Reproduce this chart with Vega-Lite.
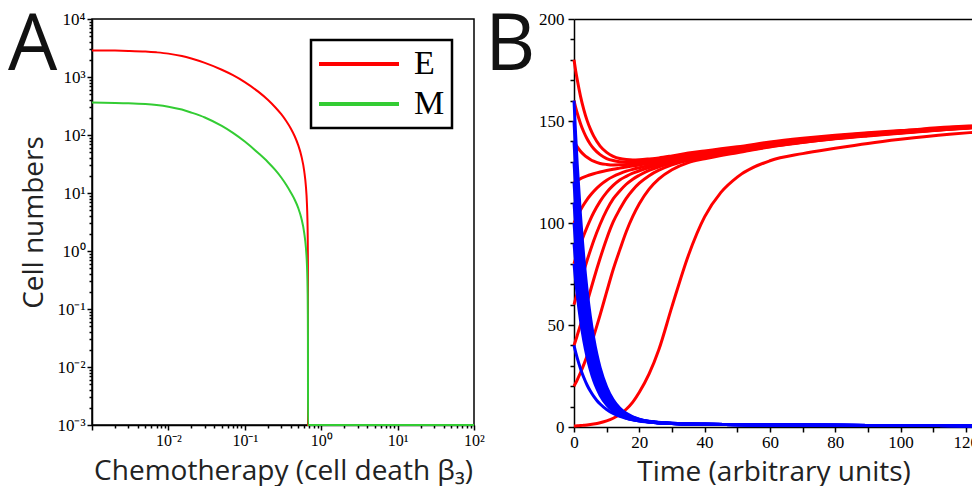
{
"$schema":"https://vega.github.io/schema/vega-lite/v6.json",
"autosize":{"type":"pad"},
"padding":{"left":7,"top":7,"right":0,"bottom":0},
"background":"white",
"bounds":"flush",
"spacing":100,
"config":{
 "view":{"stroke":null},
 "axis":{"grid":false,"domainColor":"black","domainWidth":1.5,"tickColor":"black","tickWidth":1.5,"labelColor":"black","labelFont":"Liberation Serif","labelFontSize":17,"titleFont":"Open Sans","titleFontSize":28,"titleFontWeight":"normal","titleColor":"#222","labelOverlap":false,"labelFlush":false,"labelBound":false},
 "title":{"font":"Open Sans","fontSize":78,"fontWeight":"normal","color":"#111","anchor":"start","frame":"group","offset":-76,"baseline":"alphabetic"}
},
"datasets":{
"A":[
{"c":"E","b":0.001,"v":2870},{"c":"E","b":0.002,"v":2850},{"c":"E","b":0.003,"v":2820},{"c":"E","b":0.005,"v":2750},{"c":"E","b":0.007,"v":2660},{"c":"E","b":0.01,"v":2530},{"c":"E","b":0.015,"v":2300},{"c":"E","b":0.02,"v":2080},{"c":"E","b":0.03,"v":1750},{"c":"E","b":0.05,"v":1333},{"c":"E","b":0.07,"v":1075},{"c":"E","b":0.1,"v":817},{"c":"E","b":0.15,"v":559},{"c":"E","b":0.2,"v":405},{"c":"E","b":0.25,"v":301},{"c":"E","b":0.3,"v":228},{"c":"E","b":0.35,"v":172.5},{"c":"E","b":0.4,"v":129.5},{"c":"E","b":0.45,"v":95.2},{"c":"E","b":0.5,"v":67.0},{"c":"E","b":0.55,"v":43.6},{"c":"E","b":0.6,"v":23.7},{"c":"E","b":0.63,"v":13.2},{"c":"E","b":0.65,"v":6.73},{"c":"E","b":0.66,"v":3.62},{"c":"E","b":0.665,"v":2.10},{"c":"E","b":0.669,"v":0.894},{"c":"E","b":0.671,"v":0.297},{"c":"E","b":0.672,"v":0.001},{"c":"E","b":1,"v":0.001},{"c":"E","b":10,"v":0.001},{"c":"E","b":100,"v":0.001},
{"c":"M","b":0.001,"v":361.6},{"c":"M","b":0.002,"v":357.4},{"c":"M","b":0.003,"v":352.5},{"c":"M","b":0.005,"v":341.1},{"c":"M","b":0.007,"v":328.4},{"c":"M","b":0.01,"v":308.1},{"c":"M","b":0.015,"v":274.4},{"c":"M","b":0.02,"v":243.4},{"c":"M","b":0.03,"v":200.5},{"c":"M","b":0.05,"v":143.1},{"c":"M","b":0.07,"v":108.5},{"c":"M","b":0.1,"v":77.0},{"c":"M","b":0.15,"v":48.8},{"c":"M","b":0.2,"v":34.3},{"c":"M","b":0.25,"v":25.0},{"c":"M","b":0.3,"v":18.5},{"c":"M","b":0.35,"v":13.7},{"c":"M","b":0.4,"v":10.2},{"c":"M","b":0.45,"v":7.66},{"c":"M","b":0.5,"v":5.53},{"c":"M","b":0.55,"v":3.67},{"c":"M","b":0.6,"v":2.04},{"c":"M","b":0.63,"v":1.16},{"c":"M","b":0.65,"v":0.60},{"c":"M","b":0.66,"v":0.325},{"c":"M","b":0.665,"v":0.189},{"c":"M","b":0.669,"v":0.081},{"c":"M","b":0.671,"v":0.027},{"c":"M","b":0.672,"v":0.001},{"c":"M","b":1,"v":0.001},{"c":"M","b":10,"v":0.001},{"c":"M","b":100,"v":0.001}
],
"BE":[
{"s":180,"t":0,"v":180},{"s":180,"t":0.5,"v":174.8},{"s":180,"t":1,"v":170.2},{"s":180,"t":2,"v":162.1},{"s":180,"t":3,"v":155.6},{"s":180,"t":4,"v":150.3},{"s":180,"t":5,"v":146.1},{"s":180,"t":6,"v":142.7},{"s":180,"t":8,"v":137.7},{"s":180,"t":10,"v":134.6},{"s":180,"t":12,"v":132.7},{"s":180,"t":14,"v":131.6},{"s":180,"t":16,"v":131.1},{"s":180,"t":18,"v":130.9},{"s":180,"t":20,"v":131.0},{"s":180,"t":23,"v":131.4},{"s":180,"t":26,"v":131.9},{"s":180,"t":30,"v":132.9},{"s":180,"t":35,"v":134.3},{"s":180,"t":40,"v":135.3},{"s":180,"t":45,"v":136.4},{"s":180,"t":50,"v":137.35},{"s":180,"t":60,"v":139.7},{"s":180,"t":70,"v":141.5},{"s":180,"t":80,"v":143.0},{"s":180,"t":90,"v":144.25},{"s":180,"t":100,"v":145.3},{"s":180,"t":115,"v":147.0},{"s":180,"t":122,"v":147.6},
{"s":160,"t":0,"v":160},{"s":160,"t":0.5,"v":156.7},{"s":160,"t":1,"v":153.8},{"s":160,"t":2,"v":148.7},{"s":160,"t":3,"v":144.6},{"s":160,"t":4,"v":141.3},{"s":160,"t":5,"v":138.6},{"s":160,"t":6,"v":136.5},{"s":160,"t":8,"v":133.5},{"s":160,"t":10,"v":131.6},{"s":160,"t":12,"v":130.6},{"s":160,"t":14,"v":130.05},{"s":160,"t":16,"v":129.9},{"s":160,"t":18,"v":129.95},{"s":160,"t":20,"v":130.2},{"s":160,"t":23,"v":130.7},{"s":160,"t":26,"v":131.3},{"s":160,"t":30,"v":132.4},{"s":160,"t":35,"v":133.8},{"s":160,"t":40,"v":134.8},{"s":160,"t":45,"v":135.9},{"s":160,"t":50,"v":136.9},{"s":160,"t":60,"v":139.3},{"s":160,"t":70,"v":141.2},{"s":160,"t":80,"v":142.7},{"s":160,"t":90,"v":144.0},{"s":160,"t":100,"v":145.1},{"s":160,"t":115,"v":146.8},{"s":160,"t":122,"v":147.45},
{"s":140,"t":0,"v":140},{"s":140,"t":0.5,"v":138.6},{"s":140,"t":1,"v":137.35},{"s":140,"t":2,"v":135.2},{"s":140,"t":3,"v":133.55},{"s":140,"t":4,"v":132.2},{"s":140,"t":5,"v":131.15},{"s":140,"t":6,"v":130.3},{"s":140,"t":8,"v":129.2},{"s":140,"t":10,"v":128.7},{"s":140,"t":12,"v":128.45},{"s":140,"t":14,"v":128.5},{"s":140,"t":16,"v":128.65},{"s":140,"t":18,"v":128.9},{"s":140,"t":20,"v":129.3},{"s":140,"t":23,"v":130.0},{"s":140,"t":26,"v":130.7},{"s":140,"t":30,"v":131.8},{"s":140,"t":35,"v":133.3},{"s":140,"t":40,"v":134.3},{"s":140,"t":45,"v":135.4},{"s":140,"t":50,"v":136.5},{"s":140,"t":60,"v":138.95},{"s":140,"t":70,"v":140.85},{"s":140,"t":80,"v":142.45},{"s":140,"t":90,"v":143.8},{"s":140,"t":100,"v":144.9},{"s":140,"t":115,"v":146.6},{"s":140,"t":122,"v":147.3},
{"s":120,"t":0,"v":120},{"s":120,"t":0.5,"v":120.5},{"s":120,"t":1,"v":120.95},{"s":120,"t":2,"v":121.8},{"s":120,"t":3,"v":122.5},{"s":120,"t":4,"v":123.1},{"s":120,"t":5,"v":123.65},{"s":120,"t":6,"v":124.15},{"s":120,"t":8,"v":125.0},{"s":120,"t":10,"v":125.7},{"s":120,"t":12,"v":126.35},{"s":120,"t":14,"v":126.9},{"s":120,"t":16,"v":127.45},{"s":120,"t":18,"v":127.95},{"s":120,"t":20,"v":128.45},{"s":120,"t":23,"v":129.3},{"s":120,"t":26,"v":130.1},{"s":120,"t":30,"v":131.3},{"s":120,"t":35,"v":132.8},{"s":120,"t":40,"v":133.8},{"s":120,"t":45,"v":134.97},{"s":120,"t":50,"v":136.05},{"s":120,"t":60,"v":138.6},{"s":120,"t":70,"v":140.5},{"s":120,"t":80,"v":142.2},{"s":120,"t":90,"v":143.55},{"s":120,"t":100,"v":144.7},{"s":120,"t":115,"v":146.45},{"s":120,"t":122,"v":147.1},
{"s":100,"t":0,"v":100},{"s":100,"t":0.5,"v":101.7},{"s":100,"t":1,"v":103.4},{"s":100,"t":2,"v":106.4},{"s":100,"t":3,"v":109.1},{"s":100,"t":4,"v":111.5},{"s":100,"t":5,"v":113.6},{"s":100,"t":6,"v":115.5},{"s":100,"t":8,"v":118.6},{"s":100,"t":10,"v":121.0},{"s":100,"t":12,"v":122.8},{"s":100,"t":14,"v":124.2},{"s":100,"t":16,"v":125.4},{"s":100,"t":18,"v":126.3},{"s":100,"t":20,"v":127.1},{"s":100,"t":23,"v":128.25},{"s":100,"t":26,"v":129.3},{"s":100,"t":30,"v":130.6},{"s":100,"t":35,"v":132.2},{"s":100,"t":40,"v":133.3},{"s":100,"t":45,"v":134.5},{"s":100,"t":50,"v":135.6},{"s":100,"t":60,"v":138.2},{"s":100,"t":70,"v":140.2},{"s":100,"t":80,"v":141.9},{"s":100,"t":90,"v":143.3},{"s":100,"t":100,"v":144.5},{"s":100,"t":115,"v":146.3},{"s":100,"t":122,"v":147.0},
{"s":80,"t":0,"v":80},{"s":80,"t":0.5,"v":82.5},{"s":80,"t":1,"v":85.0},{"s":80,"t":2,"v":89.65},{"s":80,"t":3,"v":94.0},{"s":80,"t":4,"v":98.0},{"s":80,"t":5,"v":101.7},{"s":80,"t":6,"v":105.0},{"s":80,"t":8,"v":110.6},{"s":80,"t":10,"v":115.0},{"s":80,"t":12,"v":118.4},{"s":80,"t":14,"v":121.05},{"s":80,"t":16,"v":122.85},{"s":80,"t":18,"v":124.4},{"s":80,"t":20,"v":125.6},{"s":80,"t":23,"v":127.2},{"s":80,"t":26,"v":128.55},{"s":80,"t":30,"v":130.1},{"s":80,"t":35,"v":131.8},{"s":80,"t":40,"v":132.9},{"s":80,"t":45,"v":134.2},{"s":80,"t":50,"v":135.3},{"s":80,"t":60,"v":138.0},{"s":80,"t":70,"v":140.0},{"s":80,"t":80,"v":141.7},{"s":80,"t":90,"v":143.15},{"s":80,"t":100,"v":144.4},{"s":80,"t":115,"v":146.2},{"s":80,"t":122,"v":146.9},
{"s":60,"t":0,"v":60},{"s":60,"t":0.5,"v":62.8},{"s":60,"t":1,"v":65.5},{"s":60,"t":2,"v":71.0},{"s":60,"t":3,"v":76.4},{"s":60,"t":4,"v":81.6},{"s":60,"t":5,"v":86.5},{"s":60,"t":6,"v":91.2},{"s":60,"t":8,"v":99.4},{"s":60,"t":10,"v":106.3},{"s":60,"t":12,"v":111.8},{"s":60,"t":14,"v":115.7},{"s":60,"t":16,"v":119.0},{"s":60,"t":18,"v":121.5},{"s":60,"t":20,"v":123.4},{"s":60,"t":23,"v":125.8},{"s":60,"t":26,"v":127.55},{"s":60,"t":30,"v":129.5},{"s":60,"t":35,"v":131.4},{"s":60,"t":40,"v":132.6},{"s":60,"t":45,"v":133.9},{"s":60,"t":50,"v":135.05},{"s":60,"t":60,"v":137.75},{"s":60,"t":70,"v":139.8},{"s":60,"t":80,"v":141.55},{"s":60,"t":90,"v":143.0},{"s":60,"t":100,"v":144.25},{"s":60,"t":115,"v":146.1},{"s":60,"t":122,"v":146.8},
{"s":40,"t":0,"v":40},{"s":40,"t":0.5,"v":42.4},{"s":40,"t":1,"v":44.95},{"s":40,"t":2,"v":50.2},{"s":40,"t":3,"v":55.6},{"s":40,"t":4,"v":61.1},{"s":40,"t":5,"v":66.65},{"s":40,"t":6,"v":72.2},{"s":40,"t":8,"v":82.7},{"s":40,"t":10,"v":92.3},{"s":40,"t":12,"v":100.5},{"s":40,"t":14,"v":106.7},{"s":40,"t":16,"v":112.1},{"s":40,"t":18,"v":116.2},{"s":40,"t":20,"v":119.5},{"s":40,"t":23,"v":123.2},{"s":40,"t":26,"v":125.9},{"s":40,"t":30,"v":128.5},{"s":40,"t":35,"v":130.8},{"s":40,"t":40,"v":132.15},{"s":40,"t":45,"v":133.55},{"s":40,"t":50,"v":134.8},{"s":40,"t":60,"v":137.5},{"s":40,"t":70,"v":139.6},{"s":40,"t":80,"v":141.4},{"s":40,"t":90,"v":142.9},{"s":40,"t":100,"v":144.15},{"s":40,"t":115,"v":146.0},{"s":40,"t":122,"v":146.75},
{"s":20,"t":0,"v":20},{"s":20,"t":0.5,"v":21.5},{"s":20,"t":1,"v":23.15},{"s":20,"t":2,"v":26.7},{"s":20,"t":3,"v":30.6},{"s":20,"t":4,"v":34.8},{"s":20,"t":5,"v":39.5},{"s":20,"t":6,"v":44.4},{"s":20,"t":8,"v":55.0},{"s":20,"t":10,"v":66.2},{"s":20,"t":12,"v":77.2},{"s":20,"t":14,"v":86.7},{"s":20,"t":16,"v":95.7},{"s":20,"t":18,"v":103.2},{"s":20,"t":20,"v":109.4},{"s":20,"t":23,"v":116.6},{"s":20,"t":26,"v":121.6},{"s":20,"t":30,"v":126.1},{"s":20,"t":35,"v":129.6},{"s":20,"t":40,"v":131.5},{"s":20,"t":45,"v":133.1},{"s":20,"t":50,"v":134.45},{"s":20,"t":60,"v":137.3},{"s":20,"t":70,"v":139.4},{"s":20,"t":80,"v":141.25},{"s":20,"t":90,"v":142.7},{"s":20,"t":100,"v":144.0},{"s":20,"t":115,"v":145.9},{"s":20,"t":122,"v":146.65},
{"s":0,"t":0,"v":0.5},{"s":0,"t":0.5,"v":0.55},{"s":0,"t":1,"v":0.6},{"s":0,"t":2,"v":0.7},{"s":0,"t":3,"v":0.85},{"s":0,"t":4,"v":1.0},{"s":0,"t":5,"v":1.2},{"s":0,"t":6,"v":1.45},{"s":0,"t":8,"v":2.1},{"s":0,"t":10,"v":3.0},{"s":0,"t":12,"v":4.3},{"s":0,"t":14,"v":6.1},{"s":0,"t":16,"v":8.7},{"s":0,"t":18,"v":12.2},{"s":0,"t":20,"v":17},{"s":0,"t":23,"v":26},{"s":0,"t":26,"v":38},{"s":0,"t":30,"v":59},{"s":0,"t":35,"v":84},{"s":0,"t":40,"v":103},{"s":0,"t":45,"v":115},{"s":0,"t":50,"v":122.5},{"s":0,"t":60,"v":130.5},{"s":0,"t":70,"v":134},{"s":0,"t":80,"v":136.6},{"s":0,"t":90,"v":139},{"s":0,"t":100,"v":141},{"s":0,"t":115,"v":143.5},{"s":0,"t":122,"v":144.4}
],
"BM":[
{"s":160,"t":0,"v":160},{"s":160,"t":0.5,"v":143.4},{"s":160,"t":1,"v":128.6},{"s":160,"t":2,"v":103.5},{"s":160,"t":3,"v":83.4},{"s":160,"t":4,"v":67.2},{"s":160,"t":5,"v":54.3},{"s":160,"t":6,"v":44.0},{"s":160,"t":7,"v":35.7},{"s":160,"t":8,"v":29.1},{"s":160,"t":10,"v":19.6},{"s":160,"t":12,"v":13.3},{"s":160,"t":14,"v":9.3},{"s":160,"t":16,"v":6.7},{"s":160,"t":18,"v":5.0},{"s":160,"t":20,"v":3.84},{"s":160,"t":25,"v":2.41},{"s":160,"t":30,"v":1.8},{"s":160,"t":40,"v":1.3},{"s":160,"t":60,"v":1.0},{"s":160,"t":80,"v":0.85},{"s":160,"t":100,"v":0.75},{"s":160,"t":122,"v":0.65},
{"s":150,"t":0,"v":150},{"s":150,"t":0.5,"v":134.5},{"s":150,"t":1,"v":120.6},{"s":150,"t":2,"v":97.1},{"s":150,"t":3,"v":78.2},{"s":150,"t":4,"v":63.1},{"s":150,"t":5,"v":51.1},{"s":150,"t":6,"v":41.4},{"s":150,"t":7,"v":33.6},{"s":150,"t":8,"v":27.4},{"s":150,"t":10,"v":18.5},{"s":150,"t":12,"v":12.65},{"s":150,"t":14,"v":8.9},{"s":150,"t":16,"v":6.4},{"s":150,"t":18,"v":4.8},{"s":150,"t":20,"v":3.73},{"s":150,"t":25,"v":2.38},{"s":150,"t":30,"v":1.79},{"s":150,"t":40,"v":1.3},{"s":150,"t":60,"v":1.0},{"s":150,"t":80,"v":0.85},{"s":150,"t":100,"v":0.75},{"s":150,"t":122,"v":0.65},
{"s":140,"t":0,"v":140},{"s":140,"t":0.5,"v":125.5},{"s":140,"t":1,"v":112.6},{"s":140,"t":2,"v":90.7},{"s":140,"t":3,"v":73.1},{"s":140,"t":4,"v":59.0},{"s":140,"t":5,"v":47.8},{"s":140,"t":6,"v":38.7},{"s":140,"t":7,"v":31.5},{"s":140,"t":8,"v":25.7},{"s":140,"t":10,"v":17.4},{"s":140,"t":12,"v":12.0},{"s":140,"t":14,"v":8.4},{"s":140,"t":16,"v":6.1},{"s":140,"t":18,"v":4.6},{"s":140,"t":20,"v":3.6},{"s":140,"t":25,"v":2.34},{"s":140,"t":30,"v":1.78},{"s":140,"t":40,"v":1.3},{"s":140,"t":60,"v":1.0},{"s":140,"t":80,"v":0.85},{"s":140,"t":100,"v":0.75},{"s":140,"t":122,"v":0.65},
{"s":130,"t":0,"v":130},{"s":130,"t":0.5,"v":116.6},{"s":130,"t":1,"v":104.6},{"s":130,"t":2,"v":84.25},{"s":130,"t":3,"v":68.0},{"s":130,"t":4,"v":54.9},{"s":130,"t":5,"v":44.5},{"s":130,"t":6,"v":36.1},{"s":130,"t":7,"v":29.4},{"s":130,"t":8,"v":24.0},{"s":130,"t":10,"v":16.3},{"s":130,"t":12,"v":11.3},{"s":130,"t":14,"v":8.0},{"s":130,"t":16,"v":5.85},{"s":130,"t":18,"v":4.4},{"s":130,"t":20,"v":3.5},{"s":130,"t":25,"v":2.3},{"s":130,"t":30,"v":1.77},{"s":130,"t":40,"v":1.3},{"s":130,"t":60,"v":1.0},{"s":130,"t":80,"v":0.85},{"s":130,"t":100,"v":0.75},{"s":130,"t":122,"v":0.65},
{"s":120,"t":0,"v":120},{"s":120,"t":0.5,"v":107.6},{"s":120,"t":1,"v":96.6},{"s":120,"t":2,"v":77.8},{"s":120,"t":3,"v":62.8},{"s":120,"t":4,"v":50.8},{"s":120,"t":5,"v":41.2},{"s":120,"t":6,"v":33.5},{"s":120,"t":7,"v":27.3},{"s":120,"t":8,"v":22.4},{"s":120,"t":10,"v":15.2},{"s":120,"t":12,"v":10.6},{"s":120,"t":14,"v":7.5},{"s":120,"t":16,"v":5.6},{"s":120,"t":18,"v":4.25},{"s":120,"t":20,"v":3.37},{"s":120,"t":25,"v":2.26},{"s":120,"t":30,"v":1.75},{"s":120,"t":40,"v":1.3},{"s":120,"t":60,"v":1.0},{"s":120,"t":80,"v":0.85},{"s":120,"t":100,"v":0.75},{"s":120,"t":122,"v":0.65},
{"s":110,"t":0,"v":110},{"s":110,"t":0.5,"v":98.7},{"s":110,"t":1,"v":88.6},{"s":110,"t":2,"v":71.4},{"s":110,"t":3,"v":57.7},{"s":110,"t":4,"v":46.7},{"s":110,"t":5,"v":37.9},{"s":110,"t":6,"v":30.8},{"s":110,"t":7,"v":25.2},{"s":110,"t":8,"v":20.7},{"s":110,"t":10,"v":14.15},{"s":110,"t":12,"v":9.9},{"s":110,"t":14,"v":7.1},{"s":110,"t":16,"v":5.3},{"s":110,"t":18,"v":4.07},{"s":110,"t":20,"v":3.26},{"s":110,"t":25,"v":2.22},{"s":110,"t":30,"v":1.74},{"s":110,"t":40,"v":1.3},{"s":110,"t":60,"v":1.0},{"s":110,"t":80,"v":0.85},{"s":110,"t":100,"v":0.75},{"s":110,"t":122,"v":0.65},
{"s":100,"t":0,"v":100},{"s":100,"t":0.5,"v":89.7},{"s":100,"t":1,"v":80.6},{"s":100,"t":2,"v":65.0},{"s":100,"t":3,"v":52.6},{"s":100,"t":4,"v":42.6},{"s":100,"t":5,"v":34.6},{"s":100,"t":6,"v":28.2},{"s":100,"t":7,"v":23.1},{"s":100,"t":8,"v":19.0},{"s":100,"t":10,"v":13.1},{"s":100,"t":12,"v":9.2},{"s":100,"t":14,"v":6.65},{"s":100,"t":16,"v":5.0},{"s":100,"t":18,"v":3.9},{"s":100,"t":20,"v":3.14},{"s":100,"t":25,"v":2.18},{"s":100,"t":30,"v":1.73},{"s":100,"t":40,"v":1.3},{"s":100,"t":60,"v":1.0},{"s":100,"t":80,"v":0.85},{"s":100,"t":100,"v":0.75},{"s":100,"t":122,"v":0.65},
{"s":90,"t":0,"v":90},{"s":90,"t":0.5,"v":80.8},{"s":90,"t":1,"v":72.6},{"s":90,"t":2,"v":58.6},{"s":90,"t":3,"v":47.4},{"s":90,"t":4,"v":38.5},{"s":90,"t":5,"v":31.3},{"s":90,"t":6,"v":25.6},{"s":90,"t":7,"v":21.0},{"s":90,"t":8,"v":17.3},{"s":90,"t":10,"v":12.0},{"s":90,"t":12,"v":8.5},{"s":90,"t":14,"v":6.2},{"s":90,"t":16,"v":4.7},{"s":90,"t":18,"v":3.7},{"s":90,"t":20,"v":3.02},{"s":90,"t":25,"v":2.14},{"s":90,"t":30,"v":1.71},{"s":90,"t":40,"v":1.3},{"s":90,"t":60,"v":1.0},{"s":90,"t":80,"v":0.85},{"s":90,"t":100,"v":0.75},{"s":90,"t":122,"v":0.65},
{"s":80,"t":0,"v":80},{"s":80,"t":0.5,"v":71.8},{"s":80,"t":1,"v":64.6},{"s":80,"t":2,"v":52.2},{"s":80,"t":3,"v":42.3},{"s":80,"t":4,"v":34.4},{"s":80,"t":5,"v":28.0},{"s":80,"t":6,"v":22.9},{"s":80,"t":7,"v":18.9},{"s":80,"t":8,"v":15.6},{"s":80,"t":10,"v":10.9},{"s":80,"t":12,"v":7.8},{"s":80,"t":14,"v":5.8},{"s":80,"t":16,"v":4.4},{"s":80,"t":18,"v":3.5},{"s":80,"t":20,"v":2.9},{"s":80,"t":25,"v":2.1},{"s":80,"t":30,"v":1.7},{"s":80,"t":40,"v":1.3},{"s":80,"t":60,"v":1.0},{"s":80,"t":80,"v":0.85},{"s":80,"t":100,"v":0.75},{"s":80,"t":122,"v":0.65},
{"s":40,"t":0,"v":40},{"s":40,"t":0.5,"v":36.7},{"s":40,"t":1,"v":33.8},{"s":40,"t":2,"v":28.6},{"s":40,"t":3,"v":24.25},{"s":40,"t":4,"v":20.6},{"s":40,"t":5,"v":17.6},{"s":40,"t":6,"v":15.1},{"s":40,"t":7,"v":13.0},{"s":40,"t":8,"v":11.3},{"s":40,"t":10,"v":8.6},{"s":40,"t":12,"v":6.6},{"s":40,"t":14,"v":5.2},{"s":40,"t":16,"v":4.25},{"s":40,"t":18,"v":3.5},{"s":40,"t":20,"v":3.0},{"s":40,"t":25,"v":2.2},{"s":40,"t":30,"v":1.76},{"s":40,"t":40,"v":1.3},{"s":40,"t":60,"v":1.0},{"s":40,"t":80,"v":0.85},{"s":40,"t":100,"v":0.75},{"s":40,"t":122,"v":0.65}
]
},
"hconcat":[
{
 "width":382,"height":406,
 "view":{"stroke":"black","strokeWidth":1.5},
 "title":{"text":"A","dx":-84},
 "data":{"name":"A"},
 "resolve":{"axis":{"x":"independent","y":"independent"}},
 "layer":[
  {"transform":[{"filter":"datum.c === 'E'"}],
   "mark":{"type":"line","strokeWidth":2,"interpolate":"monotone"},
   "encoding":{
    "x":{"field":"b","type":"quantitative","scale":{"type":"log","domain":[0.001,100]},
         "axis":{"orient":"bottom","values":[0.001,0.01,0.1,1,10,100],"tickSize":5,"labelPadding":2,"labelFontSize":16,
                 "labelExpr":"datum.value < 0.005 ? '' : '10' + ['⁻³','⁻²','⁻¹','⁰','¹','²','³','⁴'][round(log(datum.value)/LN10)+3]",
                 "title":"Chemotherapy (cell death β₃)","titlePadding":9}},
    "y":{"field":"v","type":"quantitative","scale":{"type":"log","domain":[0.001,10000]},
         "axis":{"orient":"left","values":[0.001,0.01,0.1,1,10,100,1000,10000],"tickSize":5,"labelPadding":2,
                 "labelExpr":"'10' + ['⁻³','⁻²','⁻¹','⁰','¹','²','³','⁴'][round(log(datum.value)/LN10)+3]",
                 "title":"Cell numbers","titlePadding":8}},
    "color":{"field":"c","type":"nominal","scale":{"domain":["E","M"],"range":["#ff0000","#33cc33"]},
             "legend":{"orient":"none","legendX":219,"legendY":21,"title":null,"symbolType":"M-1.6,0L6.4,0","symbolSize":400,"symbolStrokeWidth":4,"labelFont":"Liberation Serif","labelFontSize":34,"labelOffset":62,"padding":7,"rowPadding":6,"strokeColor":"black","fillColor":"white","labelColor":"black",
                       "encode":{"legend":{"update":{"strokeWidth":{"value":2.5}}}}}}
   }},
  {"transform":[{"filter":"datum.c === 'M'"}],
   "mark":{"type":"line","strokeWidth":2,"interpolate":"monotone"},
   "encoding":{
    "x":{"field":"b","type":"quantitative","scale":{"type":"log","domain":[0.001,100]},
         "axis":{"orient":"bottom","values":[0.002,0.003,0.004,0.005,0.006,0.007,0.008,0.009,0.02,0.03,0.04,0.05,0.06,0.07,0.08,0.09,0.2,0.3,0.4,0.5,0.6,0.7,0.8,0.9,2,3,4,5,6,7,8,9,20,30,40,50,60,70,80,90],"tickSize":3,"labels":false,"domain":false,"title":null}},
    "y":{"field":"v","type":"quantitative","scale":{"type":"log","domain":[0.001,10000]},
         "axis":{"orient":"left","values":[0.002,0.003,0.004,0.005,0.006,0.007,0.008,0.009,0.02,0.03,0.04,0.05,0.06,0.07,0.08,0.09,0.2,0.3,0.4,0.5,0.6,0.7,0.8,0.9,2,3,4,5,6,7,8,9,20,30,40,50,60,70,80,90,200,300,400,500,600,700,800,900,2000,3000,4000,5000,6000,7000,8000,9000],"tickSize":3,"labels":false,"domain":false,"title":null}},
    "color":{"field":"c","type":"nominal"}
   }}
 ]
},
{
 "width":399,"height":408,
 "title":{"text":"B","dx":-89},
 "resolve":{"axis":{"x":"independent","y":"independent"}},
 "layer":[
  {"data":{"name":"BE"},
   "mark":{"type":"line","strokeWidth":3,"interpolate":"monotone","color":"#ff0000"},
   "encoding":{
    "x":{"field":"t","type":"quantitative","scale":{"domain":[0,122.2],"nice":false},
         "axis":{"orient":"bottom","values":[0,10,20,30,40,50,60,70,80,90,100,110,120],"tickSize":5,"labelPadding":2,
                 "labelExpr":"datum.value % 20 === 0 ? datum.label : ''","title":"Time (arbitrary units)","titlePadding":8}},
    "y":{"field":"v","type":"quantitative","scale":{"domain":[0,200],"nice":false},
         "axis":{"orient":"left","values":[0,50,100,150,200],"tickSize":6,"labelPadding":4,"title":null}},
    "detail":{"field":"s","type":"nominal"}
   }},
  {"data":{"name":"BM"},
   "mark":{"type":"line","strokeWidth":3,"interpolate":"monotone","color":"#0000ff"},
   "encoding":{
    "x":{"field":"t","type":"quantitative","scale":{"domain":[0,122.2],"nice":false},
         "axis":{"orient":"top","ticks":false,"labels":false,"title":null}},
    "y":{"field":"v","type":"quantitative","scale":{"domain":[0,200],"nice":false},
         "axis":{"orient":"left","values":[10,20,30,40,60,70,80,90,110,120,130,140,160,170,180,190],"tickSize":4,"labels":false,"domain":false,"title":null}},
    "detail":{"field":"s","type":"nominal"}
   }}
 ]
}
]
}
